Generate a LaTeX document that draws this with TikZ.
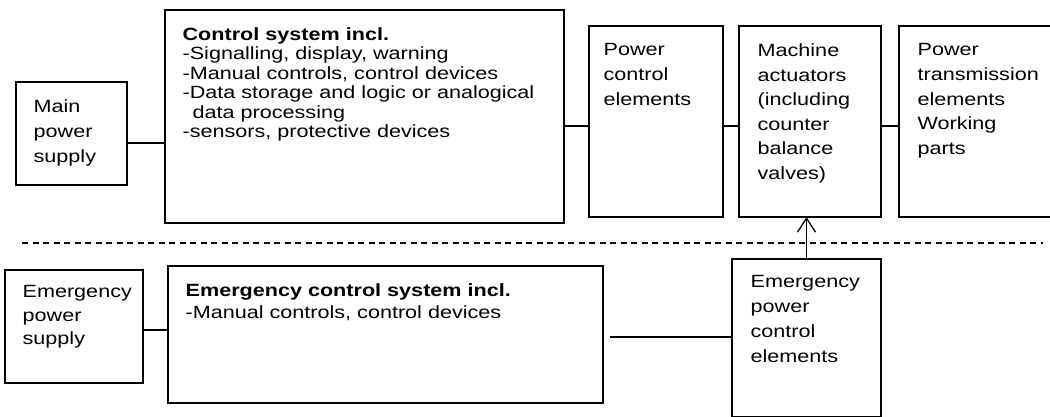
\documentclass[tikz,border=0pt]{standalone}
\usepackage{fontspec}
\setmainfont{Liberation Sans}[FakeStretch=1.22]
\usetikzlibrary{arrows.meta}

\begin{document}
\begin{tikzpicture}[x=1pt,y=-1pt,line width=1.3pt,
  blk/.style={draw,anchor=north west,inner sep=0pt,outer sep=0pt},
  txt/.style={anchor=north west,inner sep=0pt,align=left},
  wide/.style={font=\fontsize{17.7}{24.6}\selectfont},
  tight/.style={font=\fontsize{17.7}{19.5}\selectfont}]
  \useasboundingbox (0,0) rectangle (1050,417);
  \clip (0,0) rectangle (1050,417);
  % main branch
  \node[blk,minimum width=111pt,minimum height=103pt] (mps) at (16,82) {};
  \node[txt,font=\fontsize{17.7}{25}\selectfont] (mpsT) at (33,99) {Main\\power\\supply};
  \node[blk,minimum width=399pt,minimum height=213pt] (cs) at (165,10) {};
  \node[txt,tight] (csT) at (182,27) {\textbf{Control system incl.}\\-Signalling, display, warning\\-Manual controls, control devices\\-Data storage and logic or analogical\\\hspace*{10pt}data processing\\-sensors, protective devices};
  \node[blk,minimum width=134pt,minimum height=191pt] (pce) at (589,26) {};
  \node[txt,wide] (pceT) at (603,43) {Power\\control\\elements};
  \node[blk,minimum width=142pt,minimum height=191pt] (ma) at (739,26) {};
  \node[txt,wide] (maT) at (757,43) {Machine\\actuators\\(including\\counter\\balance\\valves)};
  \node[blk,minimum width=170pt,minimum height=191pt] (pt) at (899,26) {};
  \node[txt,wide] (ptT) at (917,43) {Power\\transmission\\elements\\Working\\parts};
  \draw ([yshift=-9.5pt]mps.east) -- ([yshift=-9.5pt]mps.east -| cs.west);
  \draw ([yshift=-4.5pt]pce.west) -- ([yshift=-4.5pt]pce.west -| cs.east);
  \draw ([yshift=-4.5pt]pce.east) -- ([yshift=-4.5pt]pce.east -| ma.west);
  \draw ([yshift=-4.5pt]ma.east) -- ([yshift=-4.5pt]ma.east -| pt.west);
  % separation line
  \coordinate (sepL) at (22,243);
  \coordinate (sepR) at (1043,243);
  \draw[dash pattern=on 6pt off 4.5pt] (sepL) -- (sepR);
  % emergency branch
  \node[blk,minimum width=138pt,minimum height=113pt] (eps) at (5,270) {};
  \node[txt,font=\fontsize{17.7}{23.3}\selectfont] (epsT) at (22,285) {Emergency\\power\\supply};
  \node[blk,minimum width=435pt,minimum height=137pt] (ecs) at (168,266) {};
  \node[txt,font=\fontsize{17.7}{21.7}\selectfont] (ecsT) at (185,283) {\textbf{Emergency control system incl.}\\-Manual controls, control devices};
  \node[blk,minimum width=149pt,minimum height=158pt] (epce) at (732,259) {};
  \node[txt,font=\fontsize{17.7}{25}\selectfont] (epceT) at (750,275) {Emergency\\power\\control\\elements};
  \draw ([yshift=-3.5pt]eps.east) -- ([yshift=-3.5pt]eps.east -| ecs.west);
  \draw[shorten <=7pt] ([yshift=-2.5pt]ecs.east) -- ([yshift=-2.5pt]ecs.east -| epce.west);
  \draw[-{Straight Barb[length=14pt,width=18pt]}] (epce.north) -- (epce.north |- ma.south);
\end{tikzpicture}
\end{document}
